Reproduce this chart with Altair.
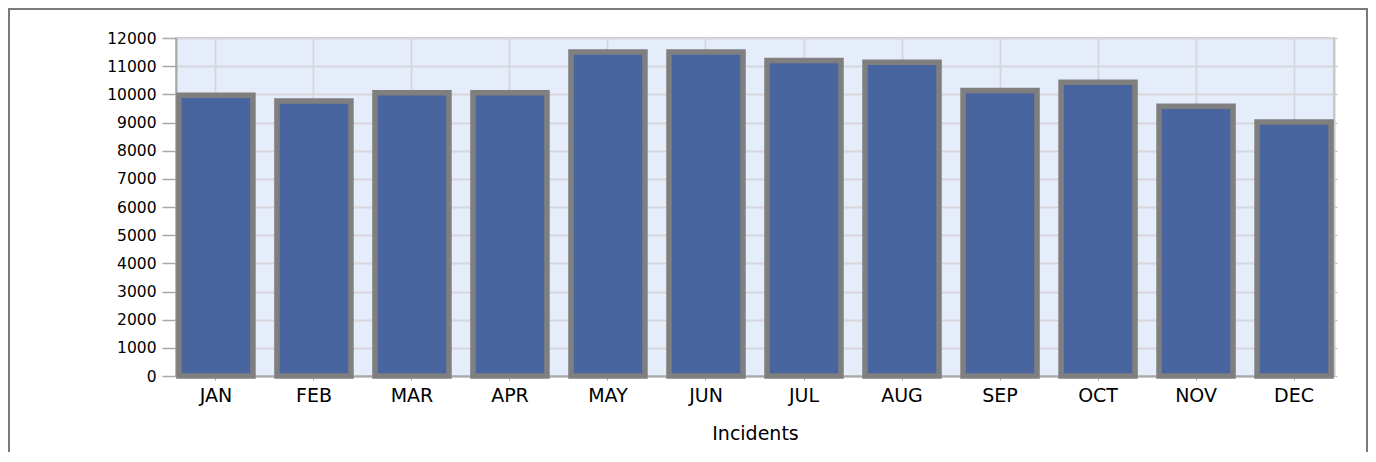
import altair as alt
import pandas as pd

months = ["JAN", "FEB", "MAR", "APR", "MAY", "JUN", "JUL", "AUG", "SEP", "OCT", "NOV", "DEC"]
incidents = [9970, 9760, 10060, 10060, 11500, 11500, 11200, 11140, 10140, 10430, 9580, 9020]
y_ticks = list(range(0, 12001, 1000))

df = pd.DataFrame({"month": months, "incidents": incidents})

FONT = "DejaVu Sans"
W, H = 1158, 338
PAD = {"left": 168, "top": 30, "right": 34, "bottom": 76}

x_enc = alt.X(
    "month:N",
    sort=months,
    scale=alt.Scale(paddingInner=0.245, paddingOuter=0.03),
    axis=alt.Axis(
        title="Incidents",
        labelAngle=0,
        labelFont=FONT,
        labelFontSize=19,
        labelColor="#000000",
        labelPadding=6,
        tickSize=4,
        tickColor="#A8A8A8",
        domainColor="#A8A8A8",
        domainWidth=2,
        grid=True,
        gridColor="#D6D6DC",
        gridWidth=1.8,
        bandPosition=0.5,
        titleFont=FONT,
        titleFontSize=19,
        titleFontWeight="normal",
        titleColor="#000000",
        titlePadding=19,
    ),
)

y_scale = alt.Scale(domain=[0, 12000], nice=False)

bars = alt.Chart(df).mark_bar(
    color="#4865A0", stroke="#7F7F7F", strokeWidth=5.5
).encode(
    x=x_enc,
    y=alt.Y(
        "incidents:Q",
        scale=y_scale,
        axis=alt.Axis(
            title=None,
            values=y_ticks,
            format="d",
            labelFont=FONT,
            labelFontSize=15.5,
            labelColor="#000000",
            labelPadding=6,
            tickSize=14,
            tickColor="#A8A8A8",
            tickWidth=1.5,
            domainColor="#A8A8A8",
            domainWidth=2,
            grid=True,
            gridColor="#D6D6DC",
            gridWidth=1.8,
        ),
    ),
)

right_axis = alt.Chart(df).mark_bar(opacity=0).encode(
    x=alt.X("month:N", sort=months, axis=None),
    y=alt.Y(
        "incidents:Q",
        scale=y_scale,
        axis=alt.Axis(
            orient="right",
            title=None,
            values=y_ticks,
            labels=False,
            tickSize=3,
            tickColor="#B8B8B8",
            domainColor="#C8C8C8",
            domainWidth=2,
            grid=False,
        ),
    ),
)

border = alt.Chart(alt.Data(values=[{"k": 1}])).mark_rect(
    fillOpacity=0, stroke="#7A7A7A", strokeWidth=2
).encode(
    x=alt.value(-PAD["left"] + 1),
    x2=alt.value(W + PAD["right"] - 1),
    y=alt.value(-PAD["top"] + 1),
    y2=alt.value(H + PAD["bottom"] + 10),
)

chart = (
    alt.layer(bars, right_axis, border)
    .resolve_axis(y="independent", x="independent")
    .properties(
        width=W,
        height=H,
        padding=PAD,
        autosize=alt.AutoSizeParams(type="none"),
        background="#FFFFFF",
    )
    .configure_view(fill="#E6EDFA", stroke="#C8C8C8", strokeWidth=2)
)

chart.save("out.html", embed_options={"renderer": "svg", "actions": False})
